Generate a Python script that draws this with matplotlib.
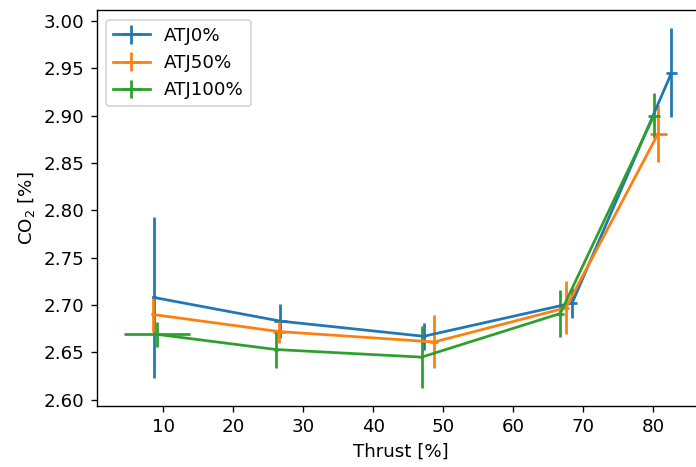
import matplotlib
matplotlib.use('Agg')
import matplotlib.pyplot as plt

# thrust setting [%] and CO2 [%] per fuel blend, with error bars
thrust_atj0 = [8.6, 26.7, 47.2, 68.4, 82.6]
co2_atj0 = [2.708, 2.683, 2.667, 2.702, 2.945]
xerr_atj0 = [0.3, 0.95, 0.35, 0.7, 0.8]
yerr_atj0 = [0.085, 0.018, 0.014, 0.016, 0.047]

thrust_atj50 = [8.5, 26.5, 48.7, 67.5, 80.7]
co2_atj50 = [2.690, 2.672, 2.661, 2.697, 2.881]
xerr_atj50 = [0.3, 0.8, 0.6, 0.5, 1.2]
yerr_atj50 = [0.018, 0.012, 0.028, 0.028, 0.030]

thrust_atj100 = [9.1, 26.1, 46.9, 66.7, 80.1]
co2_atj100 = [2.669, 2.653, 2.645, 2.691, 2.900]
xerr_atj100 = [4.7, 0.3, 0.2, 0.5, 0.8]
yerr_atj100 = [0.013, 0.019, 0.033, 0.025, 0.024]

DPI = 123
plt.rcParams['font.size'] = 10.7
plt.rcParams['lines.linewidth'] = 1.6

fig = plt.figure(figsize=(696 / DPI, 467 / DPI), dpi=DPI)
# axes runs past the right edge, like the cropped original
ax = fig.add_axes([0.1389, 0.1298, 0.8736, 0.848])

ax.errorbar(thrust_atj0, co2_atj0, xerr=xerr_atj0, yerr=yerr_atj0, label='ATJ0%')
ax.errorbar(thrust_atj50, co2_atj50, xerr=xerr_atj50, yerr=yerr_atj50, label='ATJ50%')
ax.errorbar(thrust_atj100, co2_atj100, xerr=xerr_atj100, yerr=yerr_atj100, label='ATJ100%')

ax.set_xlabel('Thrust [%]')
ax.set_ylabel('CO$_2$ [%]')
ax.legend(loc='upper left')

fig.savefig('out.png', dpi=DPI)
